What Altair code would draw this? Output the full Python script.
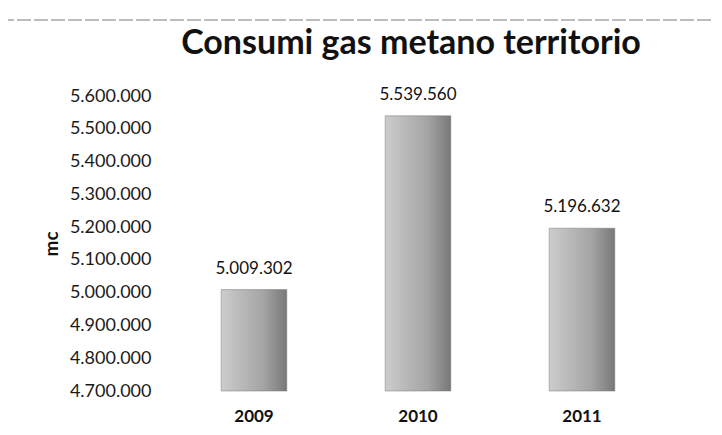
import altair as alt
import pandas as pd

years = ["2009", "2010", "2011"]
consumi = [5009302, 5539560, 5196632]
labels = ["5.009.302", "5.539.560", "5.196.632"]
y_ticks = [4700000, 4800000, 4900000, 5000000, 5100000, 5200000, 5300000, 5400000, 5500000, 5600000]
titolo = "Consumi gas metano territorio"

df = pd.DataFrame({"anno": years, "mc": consumi, "etichetta": labels})

FONT = "Lato"

base = alt.Chart(df)

x_enc = alt.X("anno:N", title=None,
              scale=alt.Scale(paddingInner=0.6, paddingOuter=0.3),
              axis=alt.Axis(labelAngle=0, labelFontSize=17, labelFontWeight="bold",
                            labelColor="#111", labelPadding=17, domain=False, ticks=False,
                            labelFont=FONT))

y_scale = alt.Scale(domain=[4700000, 5600000], zero=False, nice=False)
y_axis = alt.Axis(values=y_ticks, format=",d", labelFontSize=18,
                  labelColor="#1a1a1a", labelPadding=21, domain=False,
                  ticks=False, grid=False, labelFont=FONT,
                  labelOverlap=False, labelBound=False,
                  titleFont=FONT, titleFontSize=19, titleFontWeight="bold",
                  titleColor="#111", titlePadding=8)

bars = base.mark_bar(
    color=alt.Gradient(
        gradient="linear",
        stops=[alt.GradientStop(color="#cccccc", offset=0),
               alt.GradientStop(color="#a4a4a4", offset=0.65),
               alt.GradientStop(color="#787878", offset=1)],
        x1=0, x2=1, y1=0, y2=0),
    stroke="#777777", strokeWidth=0.5
).encode(
    x=x_enc,
    y=alt.Y("mc:Q", scale=y_scale, title="mc", axis=y_axis),
    y2=alt.datum(4700000),
)

text = base.mark_text(baseline="bottom", dy=-12, fontSize=17, font=FONT,
                      color="#111").encode(
    x=x_enc,
    y=alt.Y("mc:Q", scale=y_scale, title="mc", axis=y_axis),
    text="etichetta:N",
)

title_mark = alt.Chart(pd.DataFrame({"t": [titolo]})).mark_text(
    fontSize=34, font=FONT, fontWeight="bold", color="#111",
    align="center", baseline="middle"
).encode(x=alt.value(239), y=alt.value(-52), text="t:N")

top_line = alt.Chart(pd.DataFrame({"k": [0]})).mark_rule(
    color="#7a7a7a", strokeWidth=1.2, strokeDash=[14, 3]
).encode(x=alt.value(-172), x2=alt.value(550), y=alt.value(-76))

chart = alt.layer(top_line, title_mark, bars, text).properties(
    width=492, height=295,
    autosize=alt.AutoSizeParams(type="none"),
    padding={"left": 164, "top": 88, "right": 50, "bottom": 36},
).configure(
    locale={"number": {"decimal": ",", "thousands": ".", "grouping": [3],
                       "currency": ["", " €"]}},
    view={"stroke": None},
)

chart.save("out.html", embed_options={"renderer": "svg", "actions": False})
